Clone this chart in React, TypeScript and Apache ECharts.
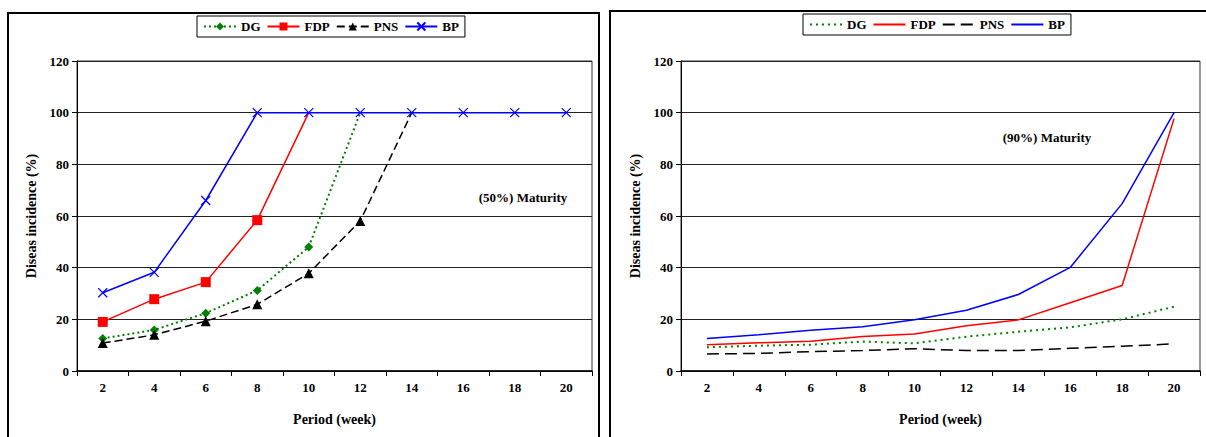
import React, { useEffect, useRef } from "react";
import * as echarts from "echarts";

const weeks = ["2", "4", "6", "8", "10", "12", "14", "16", "18", "20"];
const yTicks = [0, 20, 40, 60, 80, 100, 120];

// (50%) Maturity
const dg50 = [12.6, 15.9, 22.4, 31.2, 48, 100, "-", "-", "-", "-"];
const fdp50 = [19, 27.8, 34.4, 58.4, 100, "-", "-", "-", "-", "-"];
const pns50 = [10.8, 14, 19.3, 25.8, 37.8, 58.1, 100, "-", "-", "-"];
const bp50 = [30.3, 38.2, 66, 100, 100, 100, 100, 100, 100, 100];

// (90%) Maturity
const dg90 = [9.2, 9.8, 10.2, 11.4, 10.7, 13.3, 15.2, 16.9, 20, 24.9];
const fdp90 = [10.2, 10.9, 11.5, 13.4, 14.3, 17.5, 19.8, 26.4, 33.1, 97.7];
const pns90 = [6.6, 6.8, 7.5, 7.9, 8.6, 7.9, 7.9, 8.8, 9.6, 10.5];
const bp90 = [12.6, 14, 15.8, 17.1, 19.8, 23.5, 29.6, 40.1, 64.8, 100];

const FONT = "'Liberation Serif', 'Times New Roman', serif";
const X_PATH = "path://M0,0L10,10M10,0L0,10";

function buildOption(cfg: any) {
  const withMarkers = cfg.markers;
  const mk = (name: string, data: any[], color: string, lineType: any, width: number, symbol: string, size: number, hideTop: boolean, extraItem: any = {}) => ({
    name,
    type: "line",
    data: data.map((v: any) =>
      hideTop && v === 100 ? { value: v, symbol: "none" } : v
    ),
    connectNulls: false,
    showSymbol: withMarkers,
    symbol: withMarkers ? symbol : "none",
    symbolSize: size,
    lineStyle: { color, width, type: lineType },
    itemStyle: Object.assign({ color }, extraItem),
    z: 3,
  });
  const legend: any = {
    left: cfg.legendLeft,
    top: cfg.legendTop,
    data: ["DG", "FDP", "PNS", "BP"],
    orient: "horizontal",
    itemWidth: 32,
    itemHeight: 10,
    itemGap: 6,
    padding: [4, 6],
    borderColor: "#000",
    borderWidth: 1,
    textStyle: { fontFamily: FONT, fontWeight: "bold", fontSize: 13, color: "#000" },
    selectedMode: false,
  };
  if (!withMarkers) {
    legend.itemStyle = { color: "transparent", borderWidth: 0, opacity: 0 };
  }
  return {
    animation: false,
    textStyle: { fontFamily: FONT },
    legend,
    grid: {
      left: cfg.gridLeft,
      top: 61,
      width: cfg.gridWidth,
      height: 310,
      show: true,
      borderColor: "#333",
      borderWidth: 1,
      backgroundColor: "transparent",
    },
    xAxis: {
      type: "category",
      data: weeks,
      boundaryGap: true,
      name: "Period (week)",
      nameLocation: "middle",
      nameGap: 41,
      nameTextStyle: { fontFamily: FONT, fontWeight: "bold", fontSize: 14, color: "#000" },
      axisLine: { lineStyle: { color: "#000", width: 1.5 } },
      axisTick: { show: true, interval: 0, length: 5, lineStyle: { color: "#000" } },
      axisLabel: { interval: 0, margin: 10, fontFamily: FONT, fontWeight: "bold", fontSize: 13, color: "#000" },
      splitLine: { show: false },
    },
    yAxis: {
      type: "value",
      min: yTicks[0],
      max: yTicks[yTicks.length - 1],
      interval: 20,
      name: "Diseas incidence (%)",
      nameLocation: "middle",
      nameGap: 37,
      nameRotate: 90,
      nameTextStyle: { fontFamily: FONT, fontWeight: "bold", fontSize: 14, color: "#000" },
      axisLine: { show: true, lineStyle: { color: "#000", width: 1 } },
      axisTick: { show: true, length: 5, lineStyle: { color: "#000" } },
      axisLabel: { margin: 8, fontFamily: FONT, fontWeight: "bold", fontSize: 13, color: "#000" },
      splitLine: { show: true, lineStyle: { color: "#222", width: 1 } },
    },
    graphic: [
      {
        type: "rect",
        shape: cfg.frame,
        style: { fill: "none", stroke: "#000", lineWidth: 2 },
        silent: true,
      },
      {
        type: "text",
        x: cfg.noteX,
        y: cfg.noteY,
        style: {
          text: cfg.note,
          fontFamily: FONT,
          fontWeight: "bold",
          fontSize: 13,
          fill: "#000",
          align: "center",
          verticalAlign: "middle",
        },
      },
    ],
    series: [
      mk("DG", cfg.dg, "#008000", cfg.dgDash, 2, "diamond", 9, true),
      mk("FDP", cfg.fdp, "#ff0000", "solid", 1.5, "rect", 10, true),
      mk("PNS", cfg.pns, "#000000", cfg.pnsDash, 1.5, "triangle", 10, true),
      mk("BP", cfg.bp, "#0000ff", "solid", 1.5, X_PATH, 9, false, { color: "#0000ff", borderColor: "#0000ff", borderWidth: 1.2 }),
    ],
  };
}

const leftCfg = {
  markers: true,
  legendLeft: 197,
  legendTop: 16,
  gridLeft: 77,
  gridWidth: 515,
  frame: { x: 8, y: 13, width: 591, height: 440 },
  note: "(50%) Maturity",
  noteX: 523,
  noteY: 197,
  dg: dg50,
  fdp: fdp50,
  pns: pns50,
  bp: bp50,
  dgDash: [2, 3],
  pnsDash: [8, 4],
};

const rightCfg = {
  markers: false,
  legendLeft: 200,
  legendTop: 14,
  gridLeft: 78,
  gridWidth: 519,
  frame: { x: 7, y: 11, width: 620, height: 440 },
  note: "(90%) Maturity",
  noteX: 444,
  noteY: 137,
  dg: dg90,
  fdp: fdp90,
  pns: pns90,
  bp: bp90,
  dgDash: [2, 4],
  pnsDash: [12, 6],
};

function Chart({ cfg, left }: { cfg: any; left: number }) {
  const ref = useRef<HTMLDivElement>(null);
  useEffect(() => {
    if (!ref.current) return;
    const chart = echarts.init(ref.current, undefined, { renderer: "svg" });
    chart.setOption(buildOption(cfg));
    return () => chart.dispose();
  }, []);
  return (
    <div
      ref={ref}
      style={{ position: "absolute", left, top: 0, width: 603, height: 437 }}
    />
  );
}

export default function App() {
  return (
    <div style={{ position: "absolute", left: 0, top: 0, width: 1206, height: 437, background: "#fff", overflow: "hidden" }}>
      <Chart cfg={leftCfg} left={0} />
      <Chart cfg={rightCfg} left={603} />
    </div>
  );
}
